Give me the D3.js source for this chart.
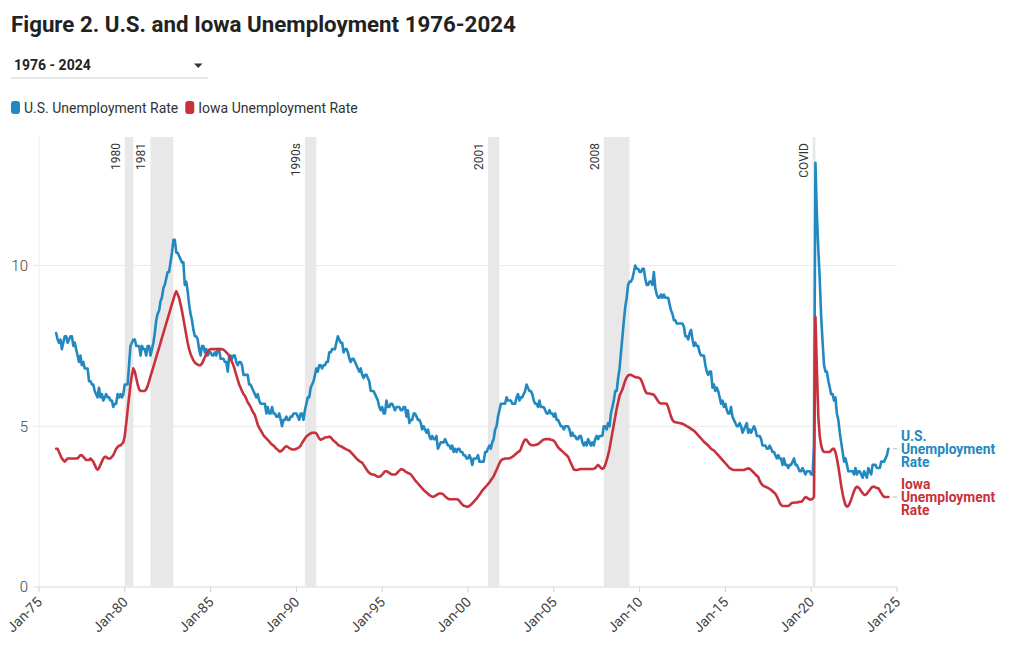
<!DOCTYPE html>
<html><head><meta charset="utf-8">
<script src="https://cdn.jsdelivr.net/npm/d3@7"></script>
<style>
body{margin:0;background:#fff;font-family:Roboto,"Noto Sans",sans-serif;}
</style></head><body>
<svg id="chart" width="1020" height="650"></svg>
<script>
// ---------- DATA ----------
const title = "Figure 2. U.S. and Iowa Unemployment 1976-2024";
const rangeLabel = "1976 - 2024";
const startYear = 1976; // monthly series start January 1976
const seriesNames = ["U.S. Unemployment Rate", "Iowa Unemployment Rate"];
const seriesEndLabels = [["U.S.", "Unemployment", "Rate"], ["Iowa", "Unemployment", "Rate"]];

const usRate = [
/*1976*/7.9,7.7,7.6,7.7,7.4,7.6,7.8,7.8,7.6,7.7,7.8,7.8,
/*1977*/7.5,7.6,7.4,7.2,7.0,7.2,6.9,7.0,6.8,6.8,6.8,6.4,
/*1978*/6.4,6.3,6.3,6.1,6.0,5.9,6.2,5.9,6.0,5.8,5.9,6.0,
/*1979*/5.9,5.9,5.8,5.8,5.6,5.7,5.7,6.0,5.9,6.0,5.9,6.0,
/*1980*/6.3,6.3,6.3,6.9,7.5,7.6,7.7,7.7,7.5,7.5,7.5,7.2,
/*1981*/7.5,7.4,7.4,7.2,7.5,7.5,7.2,7.4,7.6,7.9,8.3,8.5,
/*1982*/8.6,8.9,9.0,9.3,9.4,9.6,9.8,9.8,10.1,10.4,10.8,10.8,
/*1983*/10.4,10.4,10.3,10.2,10.1,10.1,9.4,9.5,9.2,8.8,8.5,8.3,
/*1984*/8.0,7.8,7.8,7.7,7.4,7.2,7.5,7.5,7.3,7.4,7.2,7.3,
/*1985*/7.3,7.2,7.2,7.3,7.2,7.4,7.4,7.1,7.1,7.1,7.0,7.0,
/*1986*/6.7,7.2,7.2,7.1,7.2,7.2,7.0,6.9,7.0,7.0,6.9,6.6,
/*1987*/6.6,6.6,6.6,6.3,6.3,6.2,6.1,6.0,5.9,6.0,5.8,5.7,
/*1988*/5.7,5.7,5.7,5.4,5.6,5.4,5.4,5.6,5.4,5.4,5.3,5.3,
/*1989*/5.4,5.2,5.0,5.2,5.2,5.3,5.2,5.2,5.3,5.3,5.4,5.4,
/*1990*/5.4,5.3,5.2,5.4,5.4,5.2,5.5,5.7,5.9,5.9,6.2,6.3,
/*1991*/6.4,6.6,6.8,6.7,6.9,6.9,6.8,6.9,6.9,7.0,7.0,7.3,
/*1992*/7.3,7.4,7.4,7.4,7.6,7.8,7.7,7.6,7.6,7.3,7.4,7.4,
/*1993*/7.3,7.1,7.0,7.1,7.1,7.0,6.9,6.8,6.7,6.8,6.6,6.5,
/*1994*/6.6,6.6,6.5,6.4,6.1,6.1,6.1,6.0,5.9,5.8,5.6,5.5,
/*1995*/5.6,5.4,5.4,5.8,5.6,5.6,5.7,5.7,5.6,5.5,5.6,5.6,
/*1996*/5.6,5.5,5.5,5.6,5.6,5.3,5.5,5.1,5.2,5.2,5.4,5.4,
/*1997*/5.3,5.2,5.2,5.1,4.9,5.0,4.9,4.8,4.9,4.7,4.6,4.7,
/*1998*/4.6,4.6,4.7,4.3,4.4,4.5,4.5,4.5,4.6,4.5,4.4,4.4,
/*1999*/4.3,4.4,4.2,4.3,4.2,4.3,4.3,4.2,4.2,4.1,4.1,4.0,
/*2000*/4.0,4.1,4.0,3.8,4.0,4.0,4.0,4.1,3.9,3.9,3.9,3.9,
/*2001*/4.2,4.2,4.3,4.4,4.3,4.5,4.6,4.9,5.0,5.3,5.5,5.7,
/*2002*/5.7,5.7,5.7,5.9,5.8,5.8,5.8,5.7,5.7,5.7,5.9,6.0,
/*2003*/5.8,5.9,5.9,6.0,6.1,6.3,6.2,6.1,6.1,6.0,5.8,5.7,
/*2004*/5.7,5.6,5.8,5.6,5.6,5.6,5.5,5.4,5.4,5.5,5.4,5.4,
/*2005*/5.3,5.4,5.2,5.2,5.1,5.0,5.0,4.9,5.0,5.0,5.0,4.9,
/*2006*/4.7,4.8,4.7,4.7,4.6,4.6,4.7,4.7,4.5,4.4,4.5,4.4,
/*2007*/4.6,4.5,4.4,4.5,4.4,4.6,4.7,4.6,4.7,4.7,4.7,5.0,
/*2008*/5.0,4.9,5.1,5.0,5.4,5.6,5.8,6.1,6.1,6.5,6.8,7.3,
/*2009*/7.8,8.3,8.7,9.0,9.4,9.5,9.5,9.6,9.8,10.0,9.9,9.9,
/*2010*/9.8,9.8,9.9,9.9,9.6,9.4,9.4,9.5,9.5,9.4,9.8,9.3,
/*2011*/9.1,9.0,9.0,9.1,9.0,9.1,9.0,9.0,9.0,8.8,8.6,8.5,
/*2012*/8.3,8.3,8.2,8.2,8.2,8.2,8.2,8.1,7.8,7.8,7.7,7.9,
/*2013*/8.0,7.7,7.5,7.6,7.5,7.5,7.3,7.2,7.2,7.2,6.9,6.7,
/*2014*/6.6,6.7,6.7,6.2,6.3,6.1,6.2,6.1,5.9,5.7,5.8,5.6,
/*2015*/5.7,5.5,5.4,5.4,5.6,5.3,5.2,5.1,5.0,5.0,5.1,5.0,
/*2016*/4.8,4.9,5.0,5.1,4.8,4.9,4.8,4.9,5.0,4.9,4.7,4.7,
/*2017*/4.7,4.6,4.4,4.4,4.4,4.3,4.3,4.4,4.3,4.2,4.2,4.1,
/*2018*/4.0,4.1,4.0,4.0,3.8,4.0,3.8,3.8,3.7,3.8,3.8,3.9,
/*2019*/4.0,3.8,3.8,3.7,3.6,3.6,3.7,3.6,3.5,3.6,3.6,3.6,
/*2020*/3.5,3.5,4.4,13.2,11.6,10.5,9.6,8.4,7.6,6.9,6.7,6.7,
/*2021*/6.4,6.2,6.0,6.0,5.8,5.9,5.4,5.2,4.8,4.5,4.2,3.9,
/*2022*/4.0,3.8,3.6,3.6,3.6,3.6,3.5,3.7,3.5,3.6,3.6,3.5,
/*2023*/3.4,3.6,3.5,3.4,3.7,3.6,3.5,3.8,3.8,3.8,3.7,3.7,
/*2024*/3.7,3.9,3.9,3.9,4.0,4.1,4.3
];

const iowaRate = [
/*1976*/4.3,4.3,4.2,4.1,4.0,3.95,3.9,3.95,4.0,4.0,4.0,4.0,
/*1977*/4.0,4.0,4.0,4.0,4.05,4.1,4.1,4.05,4.0,3.95,3.95,3.95,
/*1978*/4.0,3.95,3.9,3.8,3.7,3.65,3.7,3.8,3.9,4.0,4.05,4.05,
/*1979*/4.0,4.0,4.0,4.05,4.1,4.2,4.3,4.35,4.4,4.4,4.45,4.5,
/*1980*/4.7,5.1,5.5,5.9,6.3,6.6,6.8,6.7,6.5,6.3,6.15,6.1,
/*1981*/6.1,6.1,6.1,6.15,6.25,6.4,6.55,6.7,6.85,7.0,7.15,7.3,
/*1982*/7.45,7.6,7.75,7.9,8.05,8.2,8.35,8.5,8.65,8.8,8.95,9.1,
/*1983*/9.2,9.1,9.0,8.8,8.6,8.35,8.1,7.85,7.6,7.4,7.25,7.15,
/*1984*/7.05,6.98,6.95,6.92,6.9,6.9,6.95,7.05,7.15,7.25,7.32,7.38,
/*1985*/7.4,7.4,7.4,7.4,7.4,7.4,7.4,7.4,7.4,7.38,7.35,7.3,
/*1986*/7.25,7.2,7.1,7.0,6.9,6.75,6.6,6.45,6.3,6.2,6.1,6.0,
/*1987*/5.95,5.85,5.75,5.68,5.6,5.5,5.42,5.35,5.2,5.05,4.95,4.88,
/*1988*/4.8,4.72,4.67,4.62,4.58,4.53,4.47,4.43,4.4,4.35,4.3,4.27,
/*1989*/4.22,4.22,4.25,4.3,4.35,4.38,4.36,4.32,4.3,4.28,4.28,4.28,
/*1990*/4.3,4.32,4.35,4.4,4.48,4.55,4.62,4.68,4.72,4.75,4.78,4.8,
/*1991*/4.8,4.8,4.78,4.7,4.62,4.58,4.6,4.62,4.65,4.66,4.66,4.68,
/*1992*/4.66,4.6,4.55,4.52,4.48,4.43,4.4,4.38,4.36,4.33,4.3,4.28,
/*1993*/4.26,4.24,4.2,4.15,4.1,4.05,4.0,3.96,3.92,3.89,3.87,3.8,
/*1994*/3.73,3.66,3.6,3.55,3.52,3.5,3.5,3.48,3.45,3.43,3.43,3.45,
/*1995*/3.5,3.55,3.6,3.6,3.58,3.55,3.52,3.5,3.5,3.5,3.52,3.58,
/*1996*/3.62,3.66,3.66,3.64,3.6,3.57,3.55,3.53,3.5,3.45,3.38,3.32,
/*1997*/3.27,3.22,3.17,3.12,3.07,3.02,2.98,2.94,2.9,2.86,2.83,2.81,
/*1998*/2.81,2.83,2.86,2.89,2.91,2.91,2.9,2.87,2.82,2.78,2.75,2.73,
/*1999*/2.73,2.73,2.73,2.73,2.73,2.72,2.68,2.62,2.57,2.53,2.52,2.5,
/*2000*/2.5,2.52,2.56,2.6,2.65,2.7,2.75,2.81,2.87,2.93,3.0,3.05,
/*2001*/3.1,3.15,3.2,3.25,3.32,3.38,3.45,3.55,3.65,3.75,3.85,3.93,
/*2002*/3.97,3.98,4.0,4.0,4.0,4.0,4.02,4.05,4.08,4.12,4.16,4.2,
/*2003*/4.22,4.3,4.42,4.52,4.59,4.58,4.52,4.45,4.42,4.41,4.41,4.42,
/*2004*/4.43,4.45,4.48,4.52,4.56,4.59,4.6,4.6,4.6,4.6,4.58,4.57,
/*2005*/4.55,4.5,4.42,4.35,4.3,4.26,4.22,4.18,4.14,4.1,4.05,3.95,
/*2006*/3.85,3.75,3.66,3.64,3.64,3.65,3.66,3.67,3.67,3.67,3.67,3.67,
/*2007*/3.67,3.67,3.67,3.67,3.68,3.7,3.75,3.8,3.76,3.7,3.68,3.7,
/*2008*/3.8,3.95,4.1,4.3,4.55,4.8,5.05,5.3,5.55,5.75,5.95,6.05,
/*2009*/6.15,6.3,6.42,6.52,6.58,6.6,6.6,6.58,6.55,6.53,6.52,6.52,
/*2010*/6.5,6.45,6.35,6.22,6.1,6.03,6.02,6.02,6.0,6.0,5.98,5.92,
/*2011*/5.85,5.78,5.73,5.71,5.71,5.71,5.71,5.7,5.6,5.45,5.3,5.2,
/*2012*/5.14,5.13,5.12,5.11,5.1,5.09,5.08,5.06,5.03,5.0,4.98,4.95,
/*2013*/4.92,4.89,4.86,4.82,4.77,4.72,4.67,4.62,4.57,4.52,4.48,4.44,
/*2014*/4.4,4.35,4.3,4.27,4.25,4.2,4.15,4.1,4.05,4.0,3.95,3.9,
/*2015*/3.85,3.8,3.75,3.7,3.68,3.65,3.64,3.64,3.64,3.64,3.64,3.64,
/*2016*/3.64,3.64,3.66,3.68,3.69,3.68,3.64,3.6,3.55,3.5,3.46,3.42,
/*2017*/3.3,3.22,3.17,3.14,3.12,3.1,3.08,3.05,3.02,2.98,2.94,2.9,
/*2018*/2.82,2.72,2.62,2.55,2.52,2.52,2.52,2.52,2.52,2.55,2.6,2.62,
/*2019*/2.62,2.63,2.63,2.64,2.65,2.65,2.68,2.75,2.8,2.78,2.75,2.72,
/*2020*/2.72,2.75,2.8,8.4,6.8,5.3,4.7,4.4,4.25,4.2,4.2,4.2,
/*2021*/4.2,4.2,4.25,4.3,4.3,4.2,4.0,3.75,3.45,3.15,2.9,2.7,
/*2022*/2.55,2.5,2.52,2.6,2.72,2.85,2.98,3.08,3.12,3.1,3.05,2.98,
/*2023*/2.92,2.87,2.86,2.9,2.96,3.02,3.08,3.12,3.12,3.1,3.08,3.07,
/*2024*/3.0,2.92,2.85,2.8,2.8,2.8,2.8
];

const recessionLabels = ["1980", "1981", "1990s", "2001", "2008", "COVID"];
const recessionStarts = ["1980-01", "1981-07", "1990-07", "2001-03", "2007-12", "2020-02"];
const recessionEnds   = ["1980-07", "1982-11", "1991-03", "2001-11", "2009-06", "2020-04"];

const yTicks = [0, 5, 10];
const xTickYears = [1975, 1980, 1985, 1990, 1995, 2000, 2005, 2010, 2015, 2020, 2025];
const colors = ["#2189c0", "#c8313b"];

// ---------- CHART ----------
const svg = d3.select("#chart");
const parseM = d3.timeParse("%Y-%m");
const monthDate = i => new Date(startYear, i, 1);

const x = d3.scaleTime()
  .domain([new Date(1975, 0, 1), new Date(2025, 0, 1)])
  .range([39, 897]);
const y = d3.scaleLinear().domain([0, 14]).range([587, 137]);

// title
svg.append("text").attr("x", 11).attr("y", 32)
  .attr("font-size", 22.3).attr("font-weight", 700).attr("fill", "#222")
  .text(title);

// dropdown
svg.append("text").attr("x", 14).attr("y", 70)
  .attr("font-size", 14).attr("font-weight", 700).attr("fill", "#222")
  .text(rangeLabel);
svg.append("path").attr("d", "M194,63.5 L202.5,63.5 L198.25,68 Z").attr("fill", "#333");
svg.append("line").attr("x1", 11).attr("x2", 208).attr("y1", 78).attr("y2", 78)
  .attr("stroke", "#cfcfcf").attr("stroke-width", 1);

// legend
let lx = 11;
seriesNames.forEach((name, i) => {
  svg.append("rect").attr("x", lx).attr("y", 101).attr("width", 9).attr("height", 13)
    .attr("rx", 3).attr("fill", colors[i]);
  const t = svg.append("text").attr("x", lx + 13).attr("y", 113)
    .attr("font-size", 14).attr("fill", "#333").text(name);
  lx += 13 + t.node().getComputedTextLength() + 7;
});

// grid
const g = svg.append("g");
g.selectAll("line.grid").data(yTicks).join("line")
  .attr("x1", 33).attr("x2", 897)
  .attr("y1", d => y(d)).attr("y2", d => y(d))
  .attr("stroke", d => d === 0 ? "#d9d9d9" : "#e8e8e8").attr("stroke-width", 1);
g.append("line").attr("x1", x(new Date(1975,0,1))).attr("x2", x(new Date(1975,0,1)))
  .attr("y1", y(14)).attr("y2", y(0)).attr("stroke", "#ececec");

// y labels
g.selectAll("text.ytick").data(yTicks).join("text")
  .attr("x", 28).attr("y", d => y(d)).attr("dy", "0.36em")
  .attr("text-anchor", "end").attr("font-size", 15).attr("font-weight", 300)
  .attr("fill", "#444").text(d => d);

// recession bands
const bands = recessionLabels.map((l, i) => ({label: l, s: parseM(recessionStarts[i]), e: parseM(recessionEnds[i])}));
g.selectAll("rect.band").data(bands).join("rect")
  .attr("x", d => x(d.s)).attr("width", d => Math.max(2, x(d.e) - x(d.s)))
  .attr("y", y(14)).attr("height", y(0) - y(14))
  .attr("fill", "#e8e8e8");
g.selectAll("text.band").data(bands).join("text")
  .attr("transform", d => `translate(${x(d.s) - 5},${143}) rotate(-90)`)
  .attr("text-anchor", "end").attr("font-size", 12).attr("fill", "#333")
  .text(d => d.label);

// x axis ticks and labels
const fmt = d3.timeFormat("%b-%y");
const xTicks = xTickYears.map(yr => new Date(yr, 0, 1));
g.selectAll("line.xtick").data(xTicks).join("line")
  .attr("x1", d => x(d)).attr("x2", d => x(d)).attr("y1", 587).attr("y2", 592)
  .attr("stroke", "#d0d0d0");
g.selectAll("text.xtick").data(xTicks).join("text")
  .attr("transform", d => `translate(${x(d) + 4},${603}) rotate(-45)`)
  .attr("text-anchor", "end").attr("font-size", 14).attr("fill", "#444")
  .text(d => fmt(d));

// lines
const line = d3.line().x(d => x(d.date)).y(d => y(d.v)).curve(d3.curveLinear);
const seriesData = [usRate, iowaRate].map(arr => arr.map((v, i) => ({date: monthDate(i), v})));
seriesData.forEach((s, i) => {
  g.append("path").datum(s).attr("d", line)
    .attr("fill", "none").attr("stroke", colors[i]).attr("stroke-width", 2.6)
    .attr("stroke-linejoin", "round").attr("stroke-linecap", "round");
});

// end labels
seriesData.forEach((s, i) => {
  const last = s[s.length - 1];
  const ly = y(last.v);
  g.append("line").attr("x1", 893).attr("x2", 897).attr("y1", ly).attr("y2", ly)
    .attr("stroke", "#bbb");
  const t = g.append("text").attr("x", 901).attr("y", ly - 13)
    .attr("font-size", 13.8).attr("font-weight", 700).attr("fill", colors[i]);
  seriesEndLabels[i].forEach((w, k) => {
    t.append("tspan").attr("x", 901).attr("y", ly - 13 + k * 13).attr("dy", "0.36em").text(w);
  });
});
</script>
</body></html>
